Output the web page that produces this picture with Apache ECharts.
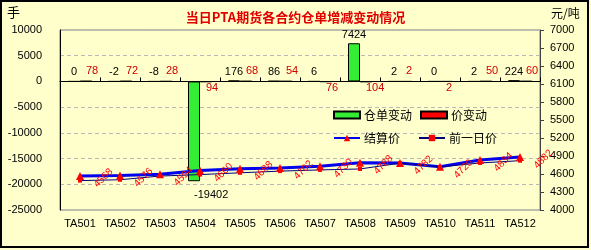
<!DOCTYPE html>
<html><head><meta charset="utf-8">
<script src="https://cdn.jsdelivr.net/npm/echarts@6/dist/echarts.min.js"></script>
<style>html,body{margin:0;padding:0;background:#ffffcc}#c{width:591px;height:250px}</style>
</head><body><div id="c"></div>
<script>
const categories = ['TA501','TA502','TA503','TA504','TA505','TA506','TA507','TA508','TA509','TA510','TA511','TA512'];
const stockChange = [0, -2, -8, -19402, 176, 86, 6, 7424, 2, 0, 2, 224];
const priceChange = [78, 72, 28, -94, 68, 54, -76, -104, 2, -2, 50, 60];
const settlePrice = [4568, 4576, 4594, 4660, 4688, 4702, 4730, 4788, 4782, 4720, 4834, 4882];
const prevPrice = [4490, 4504, 4566, 4590, 4620, 4648, 4668, 4684, 4780, 4718, 4784, 4822];
const leftTicks = {min: -25000, max: 10000, interval: 5000};
const rightTicks = {min: 4000, max: 7000, interval: 300};

const numFont = 'Liberation Sans';
const cjk = 'Noto Sans CJK SC';
const chart = echarts.init(document.getElementById('c'));
chart.setOption({
  backgroundColor: '#ffffcc',
  animation: false,
  title: {
    text: '当日PTA期货各合约仓单增减变动情况',
    left: 'center', top: 6,
    textStyle: {color: '#e00000', fontSize: 13, fontWeight: 'bold', fontFamily: cjk}
  },
  graphic: [
    {type: 'rect', shape: {x: 1, y: 1, width: 587, height: 246}, style: {fill: 'none', stroke: '#000', lineWidth: 2}, z: 100},
    {type: 'text', left: 7, top: 6, style: {text: '手', font: '13px "Noto Sans CJK SC"', fill: '#000'}},
    {type: 'text', left: 551, top: 7, style: {text: '元/吨', font: '12px "Noto Sans CJK SC"', fill: '#000'}}
  ],
  legend: [
    {
      data: [{name: '仓单变动', icon: 'rect'}, {name: '价变动', icon: 'rect'}], left: 328, top: 104, itemWidth: 26, itemHeight: 7, itemGap: 8,
      textStyle: {fontSize: 12, fontFamily: cjk, color: '#000', padding: [0,0,0,-1]}
    },
    {
      data: ['结算价', '前一日价'], left: 328, top: 127, itemWidth: 26, itemHeight: 8, itemGap: 18,
      textStyle: {fontSize: 12, fontFamily: cjk, color: '#000', padding: [0,0,0,-1]}
    }
  ],
  grid: {left: 60, right: 51, top: 30, bottom: 40, show: true, borderColor: '#808080', borderWidth: 1, backgroundColor: 'transparent'},
  xAxis: [
    {
      type: 'category', data: categories, position: 'bottom',
      axisLine: {show: false, onZero: false},
      axisTick: {show: false},
      axisLabel: {fontFamily: numFont, fontSize: 11, color: '#000', margin: 8, interval: 0}
    },
    {
      type: 'category', data: categories, position: 'bottom',
      axisLine: {show: true, onZero: true, lineStyle: {color: '#000', width: 1}},
      axisTick: {show: true, inside: true, length: 4, interval: 0, lineStyle: {color: '#000'}},
      axisLabel: {show: false}
    }
  ],
  yAxis: [
    {
      type: 'value', min: leftTicks.min, max: leftTicks.max, interval: leftTicks.interval,
      axisLine: {show: true, lineStyle: {color: '#000'}},
      axisTick: {show: false},
      axisLabel: {fontFamily: numFont, fontSize: 11, color: '#000', margin: 18, formatter: v => String(v)},
      splitLine: {show: true, lineStyle: {color: '#b8b8b8', type: [4, 3]}}
    },
    {
      type: 'value', min: rightTicks.min, max: rightTicks.max, interval: rightTicks.interval, position: 'right',
      axisLine: {show: true, lineStyle: {color: '#404040'}},
      axisTick: {show: true, length: 4, lineStyle: {color: '#404040'}},
      axisLabel: {fontFamily: numFont, fontSize: 11, color: '#000', margin: 10, formatter: v => String(v)},
      splitLine: {show: false}
    }
  ],
  series: [
    {
      name: '仓单变动', type: 'bar', data: stockChange, barWidth: 12, barGap: '0%',
      itemStyle: {color: '#33ee33', borderColor: '#000', borderWidth: 1},
      label: {
        show: true, position: 'top', distance: 3, color: '#000', fontFamily: numFont, fontSize: 11,
        formatter: p => String(p.value)
      },
      labelLayout: p => (p.dataIndex === 3 ? {y: p.rect.y + p.rect.height + 8} : {})
    },
    {
      name: '价变动', type: 'bar', data: priceChange, barWidth: 12, barGap: '0%',
      itemStyle: {color: '#ff0000', borderColor: '#000', borderWidth: 1},
      label: {
        show: true, color: '#cc0000', fontFamily: numFont, fontSize: 11,
        position: 'top', distance: 4,
        formatter: p => String(Math.abs(p.value))
      },
      labelLayout: p => (priceChange[p.dataIndex] < 0 ? {y: 88, verticalAlign: 'middle'} : {y: 71, verticalAlign: 'middle'})
    },
    {
      name: '结算价', type: 'line', yAxisIndex: 1, data: settlePrice,
      lineStyle: {color: '#0000ee', width: 3},
      itemStyle: {color: '#ff0000'},
      symbol: 'triangle', symbolSize: 8,
      label: {
        show: true, position: 'inside', offset: [15, 18], rotate: 45,
        color: '#ff0000', fontFamily: numFont, fontSize: 10
      }
    },
    {
      name: '前一日价', type: 'line', yAxisIndex: 1, data: prevPrice,
      lineStyle: {color: '#000080', width: 1},
      itemStyle: {color: '#ff0000'},
      symbol: 'rect', symbolSize: 4
    }
  ]
});
</script></body></html>
